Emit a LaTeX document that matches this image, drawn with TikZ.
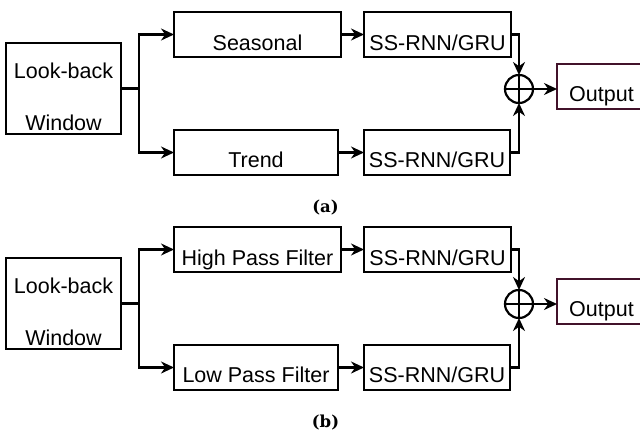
\documentclass[tikz,border=0pt]{standalone}
\usepackage{fontspec}
\newfontfamily\arialf{Liberation Sans}
\newfontfamily\capf{DejaVu Serif}
\usetikzlibrary{arrows.meta}
\definecolor{outc}{RGB}{66,18,42}
\newcommand{\drawpanel}[5]{%
 \begin{scope}[shift={(0,#2)}]
  \node[box, minimum width=115pt, minimum height=91pt] (lb#1) at (63.5,88.5) {};
  \node[box, minimum width=167pt, minimum height=45pt] (up#1) at (257.5,34.5) {};
  \node[box, minimum width=164pt, minimum height=45pt] (lo#1) at (256,152.5) {};
  \node[box, minimum width=147pt, minimum height=45pt] (r1#1) at (437.5,34.5) {};
  \node[box, minimum width=146pt, minimum height=45pt] (r2#1) at (437,152.5) {};
  \node[sumnode] (sum#1) at (519,89) {};
  \node[box, draw=outc, minimum width=88pt, minimum height=45pt] (out#1) at (601,86.5) {};
  \node[txt] (tlb1#1) at (63.5,78) {Look-back};
  \node[txt] (tlb2#1) at (63.5,130) {Window};
  \node[txt] (tup#1) at (257.5,50) {#3};
  \node[txt] (tlo#1) at (256,167) {#4};
  \node[txt] (tr1#1) at (437.5,50) {SS-RNN/GRU};
  \node[txt] (tr2#1) at (437,167) {SS-RNN/GRU};
  \node[txt] (tout#1) at (601.5,101) {Output};
  \node[captxt] (cap#1) at (325.5,212) {#5};
  \coordinate (br#1) at (139,88.5);
  \draw[arr] (lb#1.east) -- (br#1) |- (up#1.west);
  \draw[arr] (br#1) |- (lo#1.west);
  \draw[arr] (up#1.east) -- (r1#1.west);
  \draw[arr] (lo#1.east) -- (r2#1.west);
  \draw[arr] (r1#1.east) -| (sum#1.north);
  \draw[arr] (r2#1.east) -| (sum#1.south);
  \draw[ln] (sum#1.north) -- (sum#1.south);
  \draw[ln] (sum#1.west) -- (sum#1.east);
  \draw[arr] (sum#1.east) -- (sum#1.east -| out#1.west);
 \end{scope}}
\begin{document}
\begin{tikzpicture}[x=1pt,y=-1pt,
 box/.style={draw=black, line width=2.2pt, rectangle, inner sep=0pt, outer sep=0pt},
 txt/.style={anchor=base, inner sep=0pt, font=\arialf\fontsize{21.5}{24}\selectfont},
 captxt/.style={anchor=base, inner sep=0pt, font=\capf\bfseries\fontsize{16.5}{18}\selectfont},
 arr/.style={line width=2.2pt, -{Stealth[length=13pt,width=12pt]}},
 ln/.style={line width=2.2pt},
 sumnode/.style={draw, circle, line width=2.2pt, minimum size=28pt, inner sep=0pt, outer sep=0pt}]
\useasboundingbox (0,0) rectangle (640,434);
\drawpanel{a}{0}{Seasonal}{Trend}{(a)}
\drawpanel{b}{215}{High Pass Filter}{Low Pass Filter}{(b)}
\end{tikzpicture}
\end{document}
